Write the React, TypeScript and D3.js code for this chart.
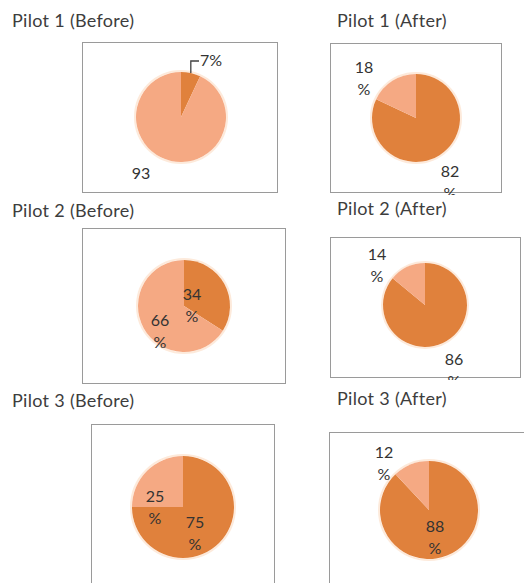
import React from "react";
import * as d3 from "d3";

// ---- data ----
const panelTitles = [
  "Pilot 1 (Before)",
  "Pilot 1 (After)",
  "Pilot 2 (Before)",
  "Pilot 2 (After)",
  "Pilot 3 (Before)",
  "Pilot 3 (After)",
];
const darkShare = [7, 82, 34, 86, 75, 88];
const lightShare = [93, 18, 66, 14, 25, 12];
const sliceNames = ["dark", "light"];

// ---- layout (positions only) ----
// label mode: "one" = "7%" on one line, "wrap" = number / % on two lines, "cut" = number only visible
type Mode = "one" | "wrap" | "cut";
type Layout = {
  tx: number; ty: number;
  bx: number; by: number; bw: number; bh: number;
  cx: number; cy: number; r: number;
  lab: [number, number, Mode][];
  leader?: boolean;
};
const layouts: Layout[] = [
  { tx: 12, ty: 27, bx: 82, by: 42, bw: 195, bh: 150, cx: 181, cy: 117, r: 45,
    lab: [[30, -51, "one"], [-40, 62, "cut"]], leader: true },
  { tx: 337, ty: 27, bx: 330, by: 43, bw: 171, bh: 149, cx: 416, cy: 118, r: 44,
    lab: [[34, 59, "wrap"], [-52, -45, "wrap"]] },
  { tx: 12, ty: 217, bx: 82, by: 228, bw: 203, bh: 155, cx: 184, cy: 306, r: 46,
    lab: [[8, -6, "wrap"], [-24, 20, "wrap"]] },
  { tx: 337, ty: 215, bx: 330, by: 237, bw: 190, bh: 140, cx: 425, cy: 305, r: 42,
    lab: [[29, 60, "wrap"], [-48, -45, "wrap"]] },
  { tx: 12, ty: 407, bx: 91, by: 424, bw: 183, bh: 180, cx: 183, cy: 507, r: 51,
    lab: [[12, 21, "wrap"], [-28, -5, "wrap"]] },
  { tx: 337, ty: 405, bx: 329, by: 432, bw: 210, bh: 180, cx: 429, cy: 510, r: 49,
    lab: [[6, 22, "wrap"], [-45, -52, "wrap"]] },
];

const colors: Record<string, string> = { dark: "#E0813C", light: "#F5A983" };
const FONT = "Lato, 'Open Sans', sans-serif";

function Panel({ i }: { i: number }) {
  const L = layouts[i];
  const values = [darkShare[i], lightShare[i]];
  const pie = d3.pie<number>().sort(null).value((d) => d);
  const arcs = pie(values);
  const arc = d3.arc<d3.PieArcDatum<number>>().innerRadius(0).outerRadius(L.r);
  const clipId = `clip${i}`;
  return (
    <g>
      <text x={L.tx} y={L.ty} fontFamily={FONT} fontSize={18} letterSpacing={0.3} fill="#3d3d3d">
        {panelTitles[i]}
      </text>
      <defs>
        <clipPath id={clipId}>
          <rect x={L.bx} y={L.by} width={L.bw} height={L.bh + 3} />
        </clipPath>
      </defs>
      <rect x={L.bx + 0.5} y={L.by + 0.5} width={L.bw} height={L.bh}
        fill="#fff" stroke="#9a9a9a" strokeWidth={1} />
      <g clipPath={`url(#${clipId})`}>
        <g transform={`translate(${L.cx},${L.cy})`}>
          <circle r={L.r + 1} fill="none" stroke="#fdeadb" strokeWidth={2} />
          {arcs.map((a, k) => (
            <path key={k} d={arc(a) || ""} fill={colors[sliceNames[k]]} />
          ))}
          {L.leader && (() => {
            const a = arcs[0];
            const mid = (a.startAngle + a.endAngle) / 2;
            const px = Math.sin(mid) * L.r;
            const py = -Math.cos(mid) * L.r;
            const [lx, ly] = L.lab[0];
            return (
              <polyline
                points={`${px},${py} ${px},${ly - 5} ${lx - 12},${ly - 5}`}
                fill="none" stroke="#404040" strokeWidth={1.3} />
            );
          })()}
          {arcs.map((a, k) => {
            const [dx, dy, mode] = L.lab[k];
            const v = values[k];
            return (
              <text key={"t" + k} x={dx} y={dy} fontFamily={FONT} fontSize={16}
                fill="#333" textAnchor="middle">
                {mode === "wrap" ? (
                  <>
                    <tspan x={dx} y={dy}>{v}</tspan>
                    <tspan x={dx} y={dy + 22}>%</tspan>
                  </>
                ) : mode === "one" ? (
                  `${v}%`
                ) : (
                  `${v}`
                )}
              </text>
            );
          })}
        </g>
      </g>
    </g>
  );
}

export default function App() {
  return (
    <svg width={524} height={583}
      style={{ position: "absolute", left: 0, top: 0, background: "#fff" }}>
      {panelTitles.map((_, i) => (
        <Panel key={i} i={i} />
      ))}
    </svg>
  );
}
